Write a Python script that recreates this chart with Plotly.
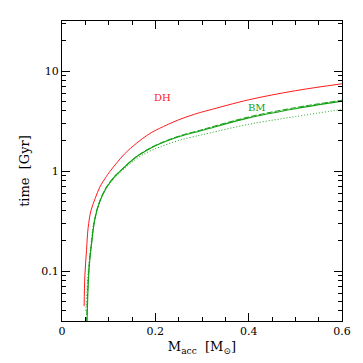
import plotly.graph_objects as go

# DH (red)
dh_x = [0.0474, 0.049, 0.0525, 0.056, 0.062, 0.071, 0.081, 0.095, 0.102, 0.134, 0.16, 0.187, 0.2085, 0.25, 0.294, 0.315, 0.4, 0.5, 0.6]
dh_y = [0.0445, 0.09, 0.16, 0.27, 0.40, 0.53, 0.69, 0.88, 0.98, 1.48, 1.90, 2.35, 2.66, 3.25, 3.82, 4.06, 5.15, 6.35, 7.45]

# BM solid (green)
bm_x = [0.0535, 0.056, 0.059, 0.063, 0.070, 0.080, 0.095, 0.113, 0.123, 0.159, 0.187, 0.2085, 0.25, 0.294, 0.315, 0.4, 0.5, 0.6]
bm_y = [0.028, 0.07, 0.12, 0.18, 0.32, 0.48, 0.68, 0.88, 0.98, 1.38, 1.66, 1.86, 2.2, 2.5, 2.66, 3.4, 4.2, 5.0]

# BM dashed (green)
bmd_x = [0.0525, 0.0555, 0.0585, 0.0625, 0.0695, 0.080, 0.095, 0.113, 0.123, 0.159, 0.187, 0.2085, 0.25, 0.294, 0.315, 0.4, 0.5, 0.6]
bmd_y = [0.03, 0.07, 0.12, 0.18, 0.32, 0.49, 0.69, 0.89, 0.99, 1.39, 1.68, 1.88, 2.23, 2.54, 2.71, 3.47, 4.3, 5.1]

# BM dotted (green)
bmo_x = [0.051, 0.054, 0.058, 0.062, 0.069, 0.080, 0.095, 0.113, 0.123, 0.159, 0.187, 0.2085, 0.25, 0.294, 0.315, 0.4, 0.5, 0.6]
bmo_y = [0.04, 0.07, 0.12, 0.18, 0.32, 0.48, 0.67, 0.86, 0.95, 1.32, 1.57, 1.73, 2.02, 2.27, 2.39, 2.93, 3.5, 4.13]

x_ticks = [0, 0.2, 0.4, 0.6]
x_ticklabels = ["0", "0.2", "0.4", "0.6"]
y_ticks = [0.1, 1, 10]
y_ticklabels = ["0.1", "1", "10"]

RED = "#ff1a1a"
GREEN = "#12a012"
FONT = "DejaVu Serif"

fig = go.Figure()
fig.add_trace(go.Scatter(x=dh_x, y=dh_y, mode="lines", line=dict(color=RED, width=1, shape="spline", smoothing=1.0), showlegend=False))
fig.add_trace(go.Scatter(x=bm_x, y=bm_y, mode="lines", line=dict(color=GREEN, width=1.1, shape="spline", smoothing=1.0), showlegend=False))
fig.add_trace(go.Scatter(x=bmd_x, y=bmd_y, mode="lines", line=dict(color=GREEN, width=1, shape="spline", smoothing=1.0, dash="6px,2px"), showlegend=False))
fig.add_trace(go.Scatter(x=bmo_x, y=bmo_y, mode="lines", line=dict(color=GREEN, width=1, shape="spline", smoothing=1.0, dash="1px,2px"), showlegend=False))

fig.add_annotation(x=0.215, y=0.734, xref="x", yref="y", text="DH", showarrow=False,
                   font=dict(family=FONT, size=10, color=RED))
fig.add_annotation(x=0.417, y=0.638, xref="x", yref="y", text="BM", showarrow=False,
                   font=dict(family=FONT, size=10, color=GREEN))

# page body has an 8px margin: size the figure so the plot area lands at x 62-344, y 20-324
fig.update_layout(
    width=355, height=355,
    margin=dict(l=54, r=19, t=12, b=39),
    paper_bgcolor="white", plot_bgcolor="white",
    font=dict(family=FONT, size=11, color="black"),
)
fig.update_xaxes(
    range=[0, 0.6], tickmode="array", tickvals=x_ticks, ticktext=x_ticklabels,
    ticks="inside", ticklen=8, tickwidth=1, tickcolor="black",
    showline=True, linecolor="black", linewidth=1, mirror="allticks",
    showgrid=False, zeroline=False,
    minor=dict(dtick=0.05, tick0=0, ticks="inside", ticklen=4, tickcolor="black", showgrid=False),
    title=dict(text="M<sub>acc</sub>  [M<sub>⊙</sub>]", font=dict(family=FONT, size=13), standoff=4),
    tickfont=dict(family=FONT, size=11),
)
fig.update_yaxes(
    type="log", range=[-1.5, 1.5], tickmode="array", tickvals=y_ticks, ticktext=y_ticklabels,
    ticks="inside", ticklen=8, tickwidth=1, tickcolor="black",
    showline=True, linecolor="black", linewidth=1, mirror="allticks",
    showgrid=False, zeroline=False,
    minor=dict(dtick="D1", ticks="inside", ticklen=4, tickcolor="black", showgrid=False),
    title=dict(text="time  [Gyr]", font=dict(family=FONT, size=13), standoff=8),
    tickfont=dict(family=FONT, size=11),
)

fig.write_html("out.html")
